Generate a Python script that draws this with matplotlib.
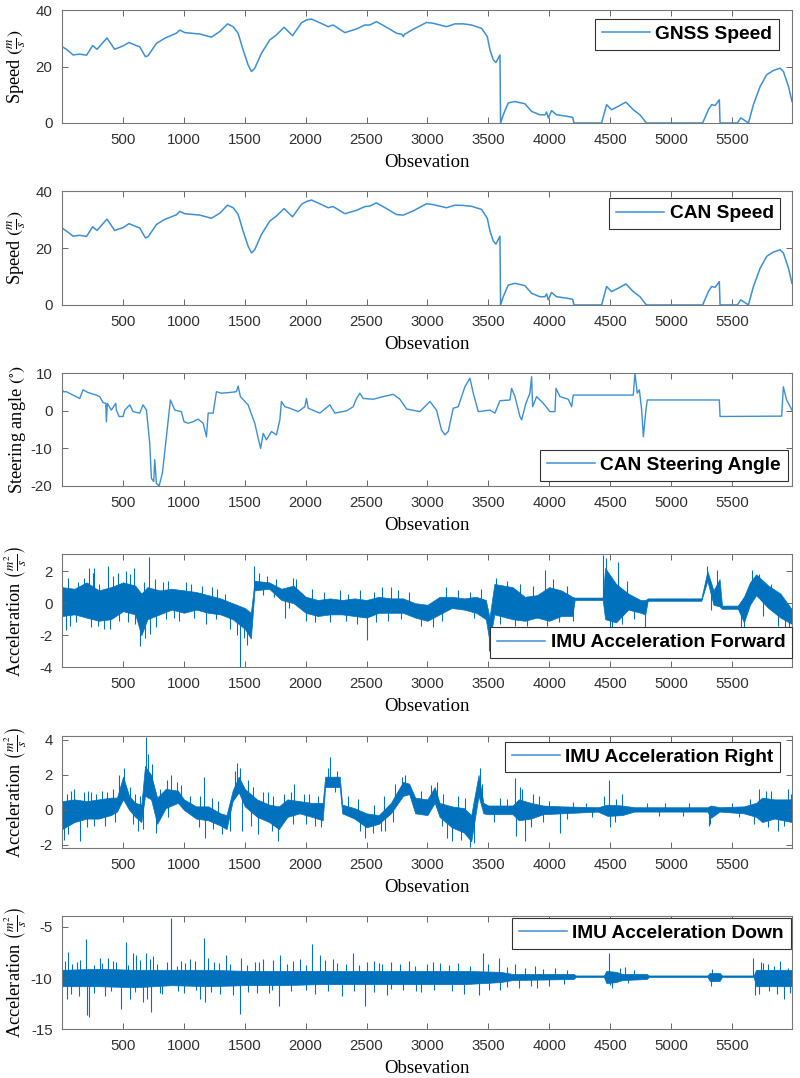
import matplotlib
matplotlib.use("Agg")
from matplotlib import pyplot as plt
from matplotlib.lines import Line2D
import numpy as np

plt.rcParams['mathtext.fontset'] = 'stix'
plt.rcParams['font.family'] = ['Liberation Sans', 'DejaVu Sans']
plt.rcParams['axes.unicode_minus'] = False

# ---- speed (m/s) ----
gnss_x = [0, 35, 89, 144, 200, 250, 286, 368, 431, 500, 549, 610, 637, 683, 705, 774, 842, 938, 966,
          1007, 1130, 1226, 1295, 1358, 1404, 1445, 1486, 1527, 1555, 1582, 1637, 1705, 1760, 1823,
          1892, 1966, 2007, 2048, 2116, 2185, 2226, 2322, 2418, 2486, 2527, 2582, 2664, 2746, 2790,
          2801, 2812, 2884, 2993, 3048, 3157, 3226, 3294, 3363, 3445, 3492, 3514, 3541, 3563, 3596,
          3601, 3623, 3664, 3719, 3801, 3856, 3924, 3966, 3979, 3993, 4020, 4061, 4143, 4193, 4204,
          4431, 4472, 4513, 4568, 4631, 4691, 4746, 4795, 4801, 5261, 5308, 5335, 5363, 5398, 5404,
          5546, 5574, 5596, 5637, 5678, 5733, 5787, 5842, 5897, 5925, 5966, 5995]
gnss_v = [27.0, 26.1, 24.1, 24.4, 24.0, 27.4, 26.1, 30.1, 26.1, 27.3, 28.5, 27.4, 27.0, 23.5, 23.8,
          28.2, 30.0, 31.8, 32.9, 32.0, 31.5, 30.4, 32.4, 35.1, 34.1, 31.8, 25.9, 20.6, 18.2, 19.4,
          24.7, 29.4, 31.2, 33.9, 30.9, 35.5, 36.5, 36.8, 35.5, 34.1, 34.7, 32.0, 33.3, 34.7, 34.7,
          35.9, 33.9, 31.8, 31.4, 30.6, 31.4, 33.2, 35.6, 35.3, 34.1, 35.1, 35.1, 34.7, 33.5, 30.6,
          25.9, 22.4, 21.4, 24.1, 0.0, 2.9, 7.1, 7.6, 6.8, 4.1, 2.9, 2.9, 3.9, 1.8, 4.4, 2.9, 2.4,
          2.0, 0.0, 0.0, 6.5, 4.7, 5.9, 7.4, 4.7, 2.9, 0.2, 0.0, 0.0, 4.7, 6.5, 6.2, 8.2, 0.0, 0.0,
          1.8, 1.2, 0.0, 6.5, 12.9, 17.1, 18.6, 19.4, 18.2, 12.9, 7.6]

can_x = [0, 35, 89, 144, 200, 250, 286, 368, 431, 500, 549, 610, 637, 683, 705, 774, 842, 938, 966,
         1007, 1130, 1226, 1295, 1358, 1404, 1445, 1486, 1527, 1555, 1582, 1637, 1705, 1760, 1823,
         1892, 1966, 2007, 2048, 2116, 2185, 2226, 2322, 2418, 2486, 2527, 2582, 2664, 2746, 2801,
         2884, 2993, 3048, 3157, 3226, 3294, 3363, 3445, 3492, 3514, 3541, 3563, 3596, 3601, 3623,
         3664, 3719, 3801, 3856, 3924, 3966, 3979, 3993, 4020, 4061, 4143, 4193, 4204, 4431, 4472,
         4513, 4568, 4631, 4691, 4746, 4795, 4801, 5261, 5308, 5335, 5363, 5398, 5404, 5546, 5574,
         5596, 5637, 5678, 5733, 5787, 5842, 5897, 5925, 5966, 5995]
can_v = [27.0, 26.0, 24.2, 24.5, 24.1, 27.5, 26.2, 30.2, 26.2, 27.2, 28.6, 27.5, 27.1, 23.6, 23.9,
         28.3, 30.1, 31.7, 32.9, 32.1, 31.6, 30.5, 32.3, 35.1, 34.2, 31.9, 26.0, 20.7, 18.3, 19.5,
         24.8, 29.5, 31.3, 33.9, 31.0, 35.4, 36.4, 36.9, 35.6, 34.2, 34.6, 32.1, 33.3, 34.6, 34.8,
         35.9, 33.9, 31.8, 31.6, 33.1, 35.6, 35.3, 34.2, 35.1, 35.0, 34.7, 33.6, 30.5, 26.0, 22.5,
         21.4, 24.2, 0.0, 2.9, 7.0, 7.6, 6.8, 4.1, 2.9, 2.9, 3.9, 1.8, 4.4, 2.9, 2.4, 2.0, 0.0, 0.0,
         6.5, 4.7, 5.9, 7.4, 4.7, 2.9, 0.2, 0.0, 0.0, 4.7, 6.5, 6.2, 8.2, 0.0, 0.0, 1.8, 1.2, 0.0,
         6.5, 12.9, 17.1, 18.6, 19.4, 18.2, 12.9, 7.6]

# ---- steering angle (deg) ----
steer_x = [0, 7, 34, 89, 144, 171, 212, 281, 308, 336, 358, 363, 371, 404, 440, 445, 467, 500, 514,
           555, 582, 637, 664, 692, 719, 733, 752, 760, 774, 796, 823, 856, 889, 925, 979, 1001, 1034,
           1075, 1116, 1158, 1185, 1199, 1240, 1267, 1308, 1377, 1431, 1445, 1464, 1500, 1527, 1582,
           1610, 1630, 1651, 1678, 1719, 1760, 1788, 1801, 1829, 1870, 1938, 1993, 2007, 2021, 2116,
           2199, 2240, 2336, 2390, 2418, 2445, 2473, 2555, 2637, 2719, 2774, 2829, 2938, 3021, 3075,
           3116, 3144, 3171, 3212, 3253, 3308, 3349, 3377, 3418, 3514, 3555, 3596, 3678, 3692, 3719,
           3760, 3774, 3809, 3842, 3856, 3864, 3897, 3952, 4007, 4048, 4056, 4089, 4157, 4185, 4198,
           4691, 4705, 4724, 4741, 4760, 4774, 4795, 4806, 5398, 5404, 5910, 5924, 5951, 5995]
steer_v = [6.0, 5.1, 5.1, 4.2, 3.3, 5.6, 4.9, 4.2, 3.8, 2.2, 2.0, -2.9, 2.0, 0.2, 2.0, 0.2, -1.5, -1.5,
           0.2, 1.6, -0.2, -0.6, 1.6, 0.2, -8.6, -18.0, -18.8, -13.0, -19.3, -20.0, -16.6, -6.9, 2.9,
           0.2, -0.2, -2.9, -3.3, -2.9, -2.2, -3.3, -6.9, -0.6, -0.6, 5.1, 4.7, 4.9, 5.1, 6.6, 3.8,
           2.5, 1.6, -3.3, -7.3, -10.0, -6.0, -7.7, -5.5, -6.4, -2.4, 2.5, 1.1, 0.7, -0.2, 1.1, 3.3,
           0.7, -0.6, 1.6, -0.6, 0.0, 1.1, 3.3, 4.7, 3.3, 3.1, 3.8, 4.4, 3.1, 0.5, -0.2, 2.5, 0.2,
           -5.1, -6.4, -5.5, 0.7, 1.1, 6.4, 8.7, 4.7, -0.2, 0.2, -0.6, 2.7, 2.9, 6.0, 3.8, -1.5,
           -2.4, 2.0, 4.7, 9.1, 1.1, 3.8, 2.0, -0.2, -0.2, 6.0, 3.8, 3.1, 1.1, 4.2, 4.2, 10.0, 4.7,
           5.6, 0.2, -6.9, 0.2, 2.9, 2.9, -1.5, -1.4, 6.4, 2.9, 0.2]

# ---- IMU acceleration forward: dense core (upper / lower edge) and single excursions ----
fwd_x = [0, 100, 200, 300, 400, 500, 600, 650, 700, 800, 900, 1000, 1100, 1200, 1300, 1400, 1500,
         1550, 1580, 1700, 1800, 1900, 2000, 2100, 2200, 2300, 2400, 2500, 2600, 2700, 2800, 2900,
         3000, 3100, 3200, 3300, 3400, 3480, 3510, 3550, 3700, 3800, 3900, 4000, 4100, 4190, 4210,
         4440, 4460, 4550, 4650, 4750, 4790, 4810, 5250, 5300, 5350, 5400, 5420, 5550, 5600, 5650,
         5700, 5800, 5900, 5995]
fwd_hi = [1.0, 0.9, 1.3, 0.8, 1.0, 1.3, 1.1, 0.6, 1.0, 0.8, 0.9, 0.8, 0.7, 0.5, 0.3, 0.0, -0.3, -0.6,
          1.4, 1.3, 0.9, 1.1, 0.4, 0.2, 0.3, 0.2, 0.3, 0.2, 0.4, 0.3, 0.3, 0.0, -0.1, 0.4, 0.4, 0.3,
          0.4, 0.2, -0.9, 1.2, 1.0, 0.4, 0.5, 1.0, 0.8, 0.4, 0.35, 0.35, 2.2, 1.2, 0.6, 0.2, 0.2,
          0.3, 0.3, 2.0, 0.8, 1.5, -0.15, -0.15, 0.4, 1.3, 1.8, 1.1, 0.6, -0.4]
fwd_lo = [-0.8, -0.7, -0.9, -1.1, -1.0, -0.5, -0.7, -2.0, -1.0, -0.7, -0.4, -0.6, -0.4, -0.6, -0.7,
          -1.0, -1.6, -2.2, 0.8, 0.9, 0.2, 0.0, -0.6, -0.8, -0.7, -0.7, -0.8, -0.9, -0.6, -0.6, -0.6,
          -0.9, -1.1, -0.7, -0.3, -0.4, -0.6, -1.0, -2.4, -0.7, -1.0, -1.1, -0.9, -1.1, -0.8, -0.8,
          0.2, 0.2, -1.0, -1.2, -0.4, -0.6, -0.7, 0.15, 0.15, 1.4, -0.1, -0.2, -0.35, -0.35, -1.2,
          -0.1, 0.5, -0.3, -0.9, -1.3]
fwd_spike_x = [30, 45, 60, 110, 130, 160, 180, 220, 240, 250, 265, 290, 300, 340, 380, 390, 420,
               460, 470, 520, 540, 560, 590, 600, 640, 670, 680, 710, 720, 760, 770, 830, 850, 870,
               920, 960, 1020, 1060, 1080, 1150, 1180, 1230, 1260, 1270, 1340, 1380, 1440, 1464,
               1490, 1520, 1577, 1620, 1650, 1680, 1740, 1760, 1830, 1860, 1900, 1920, 2000, 2050,
               2080, 2150, 2200, 2280, 2330, 2350, 2420, 2450, 2500, 2560, 2580, 2630, 2680, 2700,
               2760, 2780, 2850, 2950, 3050, 3120, 3150, 3250, 3350, 3380, 3440, 3505, 3560, 3600,
               3650, 3720, 3760, 3815, 3870, 3965, 3979, 4030, 4080, 4150, 4200, 4439, 4470, 4500,
               4520, 4568, 4600, 4640, 4700, 4787, 5300, 5330, 5380, 5580, 5601, 5640, 5664, 5720,
               5760, 5820, 5880, 5940, 5970]
fwd_spike_y = [-1.7, 1.6, -1.4, -1.2, 1.3, 1.0, 1.6, 2.2, -1.5, 1.9, 2.2, -1.4, 1.2, -1.6, 2.3, -1.6,
               1.7, 1.9, -1.1, 2.0, -1.2, 1.8, 2.2, -1.3, -2.7, 1.3, -2.2, 2.9, -1.9, 1.5, -1.5, 1.3,
               -1.0, 1.4, -0.9, -1.1, 1.3, 1.2, -0.9, 1.1, -1.3, 1.0, -1.0, 0.9, 0.6, -1.6, -2.0, -4.0,
               -2.2, -2.6, 2.3, 1.9, 0.5, 1.7, 0.4, 1.5, -0.9, -0.3, 1.6, 1.5, -1.1, 0.9, -1.2, 0.7,
               -1.2, 0.8, -1.1, 0.6, -1.3, 0.8, -2.3, 0.7, -1.2, 1.0, -1.1, 1.0, 0.8, -1.0, 0.7, -1.4,
               -1.5, -1.1, 1.0, 0.8, 0.7, -0.9, 0.9, -3.0, 1.6, -1.3, 1.4, -1.4, 1.2, -1.4, 1.1, 2.1,
               -1.4, 1.5, -1.2, 1.1, -1.1, 3.0, 2.8, -1.6, -1.5, 2.6, -1.3, 1.4, -1.0, -1.5, 2.3,
               -0.4, 2.1, -1.5, -1.5, 1.0, 2.1, 1.8, -0.8, 1.2, -1.4, -1.7, -1.6]

# ---- IMU acceleration right ----
right_x = [0, 100, 200, 300, 400, 450, 500, 550, 600, 650, 680, 730, 780, 850, 950, 1000, 1100,
           1200, 1300, 1350, 1400, 1450, 1500, 1600, 1700, 1780, 1850, 1950, 2050, 2140, 2160, 2280,
           2300, 2400, 2500, 2600, 2700, 2800, 2850, 2900, 3000, 3060, 3100, 3200, 3300, 3360, 3420,
           3460, 3500, 3700, 3750, 3850, 3950, 4100, 4400, 4480, 4600, 4700, 5300, 5330, 5400, 5600,
           5700, 5750, 5850, 5995]
right_hi = [0.5, 0.6, 0.5, 0.6, 0.7, 0.7, 1.9, 0.8, 0.4, 0.3, 2.5, 2.0, 0.7, 1.2, 1.1, 0.6, 0.2, 0.2,
            -0.2, -0.3, 1.1, 1.9, 1.2, 0.6, 0.3, 0.2, 0.6, 0.5, 0.4, 0.4, 1.9, 1.9, 0.3, 0.1, -0.2,
            -0.3, 0.4, 1.6, 1.5, 0.7, 0.6, 1.3, 0.4, 0.2, 0.1, -0.3, 2.0, 0.4, 0.25, 0.25, 0.6, 0.4,
            0.25, 0.2, 0.15, 0.3, 0.25, 0.15, 0.15, 0.25, 0.15, 0.2, 0.4, 0.7, 0.6, 0.6]
right_lo = [-1.1, -0.7, -0.5, -0.5, -0.3, -0.1, 0.6, 0.0, -0.4, -0.7, 0.8, 0.6, -0.8, 0.1, 0.4,
            0.0, -0.5, -0.6, -0.9, -1.1, 0.5, 1.0, 0.2, -0.4, -0.7, -1.1, -0.4, -0.2, -0.4, -0.6,
            1.3, 1.3, -0.2, -0.5, -1.0, -0.8, -0.2, 0.8, 0.9, -0.2, -0.3, 0.4, -0.4, -1.0, -1.3,
            -1.8, 0.8, -0.2, -0.25, -0.25, -0.6, -0.5, -0.25, -0.2, -0.1, -0.35, -0.3, -0.1, -0.1,
            -0.45, -0.1, -0.2, -0.4, -0.7, -0.5, -0.7]
right_spike_x = [15, 40, 50, 70, 100, 145, 180, 200, 210, 240, 260, 280, 330, 350, 370, 420, 430,
                 470, 505, 560, 580, 600, 625, 640, 660, 685, 705, 740, 770, 800, 860, 870, 890, 940,
                 980, 1050, 1120, 1130, 1163, 1170, 1230, 1240, 1280, 1310, 1380, 1420, 1440, 1460,
                 1480, 1530, 1550, 1570, 1610, 1650, 1690, 1720, 1730, 1775, 1820, 1880, 1900, 1905,
                 1990, 2000, 2030, 2080, 2100, 2130, 2180, 2200, 2240, 2260, 2350, 2430, 2450, 2485,
                 2550, 2560, 2620, 2640, 2650, 2720, 2730, 2790, 2820, 2950, 3030, 3080, 3120, 3130,
                 3160, 3200, 3250, 3280, 3310, 3350, 3380, 3430, 3450, 3550, 3600, 3650, 3720, 3730,
                 3760, 3780, 3800, 3850, 3870, 3920, 3950, 4000, 4090, 4150, 4200, 4300, 4350, 4450,
                 4490, 4500, 4540, 4550, 4600, 4800, 4900, 4950, 5100, 5150, 5310, 5320, 5500, 5560,
                 5650, 5680, 5720, 5780, 5800, 5820, 5880, 5930, 5960, 5990]
right_spike_y = [-1.7, 0.9, -1.4, 1.1, 1.2, -1.8, 1.0, -1.0, 1.1, 1.0, -0.9, 0.9, 1.1, -0.9, 1.0,
                 1.2, -0.7, 2.0, 2.4, 1.3, -0.8, 0.9, -1.2, 0.8, -1.1, 4.2, 3.2, 2.6, -1.3, 1.2, 1.7,
                 -0.4, 2.0, 1.6, 1.4, 0.8, -1.0, 0.8, 1.9, -1.6, 0.7, -1.1, 0.5, -1.4, -1.2, 2.2, 2.7,
                 2.4, -1.2, 1.7, -0.9, 1.3, -1.4, 1.0, 1.0, -1.2, 0.8, -1.8, 0.9, 1.0, -0.8, 1.5, 0.9,
                 -0.8, 0.9, -0.9, 0.8, -1.0, 2.4, 3.0, 1.0, 2.2, 0.8, 0.6, -1.2, -1.6, -1.3, 0.3, -1.2,
                 0.8, -1.2, -0.7, 1.5, 1.9, 2.0, 1.1, 1.4, 1.6, -0.9, 0.9, -1.6, -1.8, 0.8, -1.7, 0.7,
                 -2.1, -1.9, 2.4, 1.5, -0.7, 0.7, 0.6, 1.8, -1.5, 1.3, 1.2, -1.8, -1.0, 0.9, 0.8, -0.7,
                 0.5, -1.3, -0.5, 0.45, 0.4, -0.4, 0.8, 1.7, -1.0, -0.7, 0.6, 0.9, 0.4, -0.35, 0.4,
                 -0.35, 0.4, -0.9, -0.8, 0.4, -0.4, 0.6, -0.8, 1.2, 1.1, -1.0, 1.1, -1.2, -0.9, 1.2,
                 0.9]

# ---- IMU acceleration down ----
down_x = [0, 300, 600, 900, 1200, 1500, 1800, 2100, 2400, 2700, 3000, 3300, 3600, 3700, 4200, 4220,
          4450, 4470, 4550, 4600, 4800, 4820, 5300, 5320, 5400, 5420, 5680, 5700, 5995]
down_hi = [-9.2, -9.1, -9.2, -9.2, -9.2, -9.3, -9.3, -9.3, -9.3, -9.3, -9.3, -9.3, -9.4, -9.6, -9.6,
           -9.75, -9.75, -9.3, -9.4, -9.6, -9.6, -9.75, -9.75, -9.5, -9.5, -9.75, -9.75, -9.2, -9.2]
down_lo = [-10.8, -10.8, -10.9, -10.7, -10.8, -10.7, -10.7, -10.6, -10.6, -10.6, -10.6, -10.6,
           -10.4, -10.2, -10.1, -9.9, -9.9, -10.5, -10.4, -10.2, -10.1, -9.9, -9.9, -10.3, -10.3,
           -9.9, -9.9, -10.8, -10.8]
down_spike_x = [20, 40, 48, 70, 80, 120, 140, 150, 199, 205, 221, 260, 265, 308, 330, 350, 380, 400,
                420, 440, 486, 522, 540, 560, 582, 600, 610, 640, 664, 692, 700, 720, 733, 750, 780,
                800, 820, 860, 892, 940, 950, 980, 1000, 1010, 1048, 1090, 1100, 1130, 1166, 1171,
                1200, 1220, 1250, 1290, 1300, 1349, 1380, 1400, 1459, 1465, 1520, 1525, 1582, 1600,
                1620, 1651, 1700, 1720, 1730, 1782, 1790, 1850, 1880, 1900, 1952, 2000, 2005, 2053,
                2080, 2116, 2160, 2180, 2226, 2260, 2300, 2330, 2390, 2400, 2440, 2486, 2500, 2560,
                2565, 2600, 2630, 2664, 2700, 2705, 2774, 2800, 2850, 2900, 2905, 2950, 3000, 3050,
                3055, 3100, 3180, 3200, 3250, 3300, 3350, 3420, 3459, 3500, 3505, 3590, 3600, 3650,
                3655, 3719, 3750, 3800, 3850, 3883, 3900, 3950, 4000, 4050, 4120, 4150, 4494, 4500,
                4520, 4580, 4620, 4650, 4700, 5330, 5340, 5677, 5690, 5720, 5740, 5760, 5800, 5805,
                5850, 5870, 5900, 5930, 5960, 5980]
down_spike_y = [-8.3, -12.0, -7.5, -11.6, -8.6, -8.4, -11.8, -8.2, -6.2, -13.6, -13.8, -8.7, -11.5,
                -8.0, -8.5, -11.8, -8.0, -11.3, -8.3, -8.4, -13.0, -6.5, -8.7, -12.0, -7.6, -11.4,
                -7.8, -8.2, -12.3, -7.6, -12.0, -8.1, -13.3, -7.9, -8.6, -11.5, -11.6, -8.4, -4.1,
                -8.8, -11.3, -8.3, -11.5, -8.5, -8.1, -8.3, -11.2, -12.0, -6.1, -12.3, -8.0, -11.4,
                -8.4, -8.5, -11.6, -7.8, -8.6, -11.7, -13.5, -8.0, -8.7, -11.4, -8.4, -11.5, -8.4,
                -8.1, -11.5, -11.2, -8.2, -12.7, -7.8, -8.6, -11.3, -8.3, -8.1, -8.7, -11.2, -6.7,
                -11.6, -7.8, -8.2, -11.3, -8.1, -8.5, -11.8, -8.6, -7.6, -11.3, -8.7, -12.7, -8.4,
                -8.3, -11.4, -8.5, -8.6, -11.7, -8.4, -11.1, -8.6, -11.2, -8.3, -8.8, -11.3, -11.4,
                -8.6, -8.4, -11.2, -8.5, -8.7, -11.3, -8.5, -11.6, -8.8, -11.7, -7.6, -8.6, -11.2,
                -8.0, -11.2, -8.9, -10.9, -8.6, -11.0, -9.0, -10.8, -8.8, -11.0, -9.1, -10.8, -9.0,
                -10.6, -9.2, -7.6, -10.7, -11.0, -9.0, -8.9, -10.5, -9.2, -10.8, -9.1, -8.0, -11.7,
                -11.6, -8.4, -8.5, -8.6, -11.3, -8.8, -11.6, -8.3, -12.0, -9.0, -11.5]

blue = '#0072BD'
light_blue = '#3d8fd1'
xtick_vals = list(range(500, 6000, 500))

fig = plt.figure(figsize=(8, 10.78), dpi=100)
left, width = 0.0779, 0.9121
boxes = [(0.8859, 0.1048), (0.7171, 0.1055), (0.5492, 0.1045),
         (0.3810, 0.1048), (0.2131, 0.1045), (0.0452, 0.1051)]
axes = [fig.add_axes([left, b, width, h]) for b, h in boxes]


def style(ax, ylim, yticks, ylabel):
    ax.set_xlim(1, 5995)
    ax.set_ylim(*ylim)
    ax.set_xticks(xtick_vals)
    ax.set_yticks(yticks)
    ax.tick_params(direction='in', top=True, right=True, length=4, width=0.7,
                   colors='#666666', labelcolor='#303030', labelsize=10.8, pad=7)
    for s in ax.spines.values():
        s.set_color('#777777')
        s.set_linewidth(0.8)
    ax.set_xlabel('Obsevation', family='Liberation Serif', fontsize=13.5, labelpad=5)
    ax.set_ylabel(ylabel, family='Liberation Serif', fontsize=13.2)
    ax.yaxis.set_label_coords(-0.047, 0.5)


def legend(ax, label, loc, anchor):
    h = Line2D([], [], color=light_blue, lw=1.1)
    leg = ax.legend([h], [label], loc=loc, bbox_to_anchor=anchor, borderaxespad=0,
                    fancybox=False, framealpha=1, edgecolor='#333333', borderpad=0.35,
                    handlelength=2.5, handletextpad=0.3,
                    prop={'family': 'Liberation Sans', 'weight': 'bold', 'size': 13.8})
    leg.get_frame().set_linewidth(0.8)


speed_label = r'Speed $\left(\frac{m}{s}\right)$'
acc_label = r'Acceleration $\left(\frac{m^2}{s}\right)$'

ax = axes[0]
ax.plot(gnss_x, gnss_v, color=light_blue, lw=1.1)
style(ax, (0, 40), [0, 20, 40], speed_label)
legend(ax, 'GNSS Speed', 'upper right', (0.982, 0.92))

ax = axes[1]
ax.plot(can_x, can_v, color=light_blue, lw=1.1)
style(ax, (0, 40), [0, 20, 40], speed_label)
legend(ax, 'CAN Speed', 'upper right', (0.984, 0.938))

ax = axes[2]
ax.plot(steer_x, steer_v, color=light_blue, lw=1.0)
style(ax, (-20, 10), [-20, -10, 0, 10], r'Steering angle $(^{\circ})$')
legend(ax, 'CAN Steering Angle', 'lower right', (0.994, 0.047))

dense = [(fwd_x, fwd_lo, fwd_hi, fwd_spike_x, fwd_spike_y),
         (right_x, right_lo, right_hi, right_spike_x, right_spike_y),
         (down_x, down_lo, down_hi, down_spike_x, down_spike_y)]
for ax, (x, lo, hi, sx, sy) in zip(axes[3:], dense):
    ax.fill_between(x, lo, hi, color=blue, lw=0.5, edgecolor=blue)
    # excursions start from the middle of the dense core
    mid = np.interp(sx, x, (np.array(lo) + np.array(hi)) / 2)
    ax.vlines(sx, mid, sy, color=blue, lw=0.8)

style(axes[3], (-4, 3.05), [-4, -2, 0, 2], acc_label)
legend(axes[3], 'IMU Acceleration Forward', 'lower right', (1.0, 0.082))
style(axes[4], (-2.2, 4.25), [-2, 0, 2, 4], acc_label)
legend(axes[4], 'IMU Acceleration Right', 'upper right', (0.984, 0.947))
style(axes[5], (-15, -3.95), [-15, -10, -5], acc_label)
legend(axes[5], 'IMU Acceleration Down', 'upper right', (0.998, 0.985))

fig.savefig('out.png', dpi=100)
